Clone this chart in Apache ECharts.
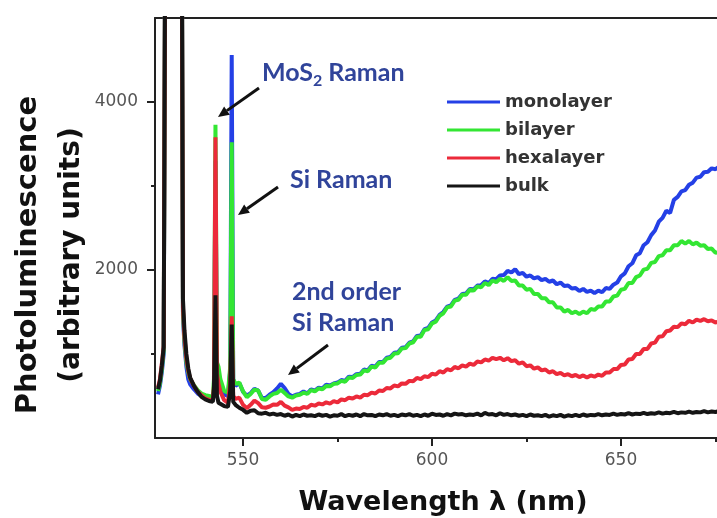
<!DOCTYPE html>
<html>
<head>
<meta charset="utf-8">
<script src="https://cdn.jsdelivr.net/npm/echarts@6/dist/echarts.min.js"></script>
<style>
  html, body { margin: 0; padding: 0; background: #fff; }
  #chart { width: 717px; height: 518px; }
</style>
</head>
<body>
<div id="chart"></div>
<script>
// ---------- data ----------
const wavelength = [
  527.5, 528, 528.5, 529, 529.4, 533.8, 534.1, 534.5, 535, 535.5,
  536, 537, 538, 539, 540, 541, 542, 542.3, 542.7, 543.1,
  543.5, 544, 545, 546, 546.6, 547, 547.4,
  548, 549, 550, 551, 552, 553, 554, 555, 556, 557,
  558, 559, 560, 561, 562, 563, 564, 565, 566, 567,
  568, 569, 570, 571, 572, 573, 574, 575, 576, 577,
  578, 579, 580, 581, 582, 583, 584, 585, 586, 587,
  588, 589, 590, 591, 592, 593, 594, 595, 596, 597,
  598, 599, 600, 601, 602, 603, 604, 605, 606, 607,
  608, 609, 610, 611, 612, 613, 614, 615, 616, 617,
  618, 619, 620, 621, 622, 623, 624, 625, 626, 627,
  628, 629, 630, 631, 632, 633, 634, 635, 636, 637,
  638, 639, 640, 641, 642, 643, 644, 645, 646, 647,
  648, 649, 650, 651, 652, 653, 654, 655, 656, 657,
  658, 659, 660, 661, 662, 663, 664, 665, 666, 667,
  668, 669, 670, 671, 672, 673, 674, 675, 676
];

const monolayer = [
  520, 620, 780, 1000, 6000, 6000, 1450, 1100, 850, 700,
  640, 580, 530, 500, 480, 470, 460, 560, 3300, 700,
  700, 600, 520, 500, 800, 4560, 700,
  620, 655, 550, 505, 535, 585, 565, 475, 475, 515,
  545, 590, 645, 595, 525, 495, 515, 525, 555, 530,
  580, 565, 600, 590, 635, 625, 650, 660, 690, 680,
  730, 725, 760, 765, 815, 805, 860, 850, 905, 905,
  955, 965, 1015, 1020, 1075, 1080, 1135, 1150, 1215, 1220,
  1295, 1310, 1375, 1400, 1465, 1500, 1565, 1580, 1645, 1660,
  1715, 1720, 1775, 1770, 1815, 1820, 1865, 1845, 1895, 1890,
  1935, 1940, 1990, 1970, 2010, 1950, 1965, 1920, 1935, 1900,
  1915, 1880, 1895, 1860, 1875, 1830, 1850, 1810, 1815, 1780,
  1785, 1750, 1775, 1740, 1755, 1725, 1755, 1735, 1785, 1775,
  1825, 1850, 1925, 1960, 2045, 2080, 2175, 2200, 2295, 2330,
  2415, 2470, 2575, 2620, 2705, 2680, 2835, 2870, 2935, 2950,
  3015, 3040, 3100, 3110, 3165, 3170, 3210, 3200, 3230
];

const bilayer = [
  560, 650, 820, 1050, 6000, 6000, 1500, 1150, 900, 780,
  700, 630, 570, 530, 510, 500, 490, 700, 3730, 900,
  850, 700, 560, 540, 850, 3520, 700,
  645, 660, 555, 485, 525, 575, 565, 465, 455, 495,
  525, 535, 575, 535, 495, 480, 505, 515, 540, 525,
  570, 555, 590, 580, 620, 615, 645, 650, 680, 670,
  720, 715, 750, 755, 805, 795, 850, 840, 895, 895,
  945, 955, 1005, 1010, 1065, 1070, 1125, 1140, 1205, 1205,
  1285, 1295, 1365, 1385, 1455, 1485, 1555, 1565, 1635, 1645,
  1705, 1705, 1765, 1755, 1805, 1795, 1845, 1820, 1875, 1855,
  1895, 1870, 1915, 1870, 1875, 1815, 1815, 1765, 1775, 1715,
  1715, 1665, 1665, 1615, 1615, 1555, 1555, 1505, 1525, 1485,
  1505, 1475, 1505, 1485, 1535, 1525, 1565, 1565, 1625, 1625,
  1685, 1695, 1765, 1775, 1845, 1845, 1915, 1935, 2005, 2015,
  2085, 2095, 2165, 2175, 2235, 2235, 2295, 2295, 2345, 2315,
  2345, 2305, 2325, 2290, 2295, 2250, 2255, 2205, 2215
];

const hexalayer = [
  600, 700, 880, 1100, 6000, 6000, 1550, 1200, 950, 800,
  710, 620, 550, 510, 470, 455, 445, 620, 3580, 760,
  650, 550, 450, 420, 650, 1450, 500,
  465, 480, 395, 355, 395, 445, 415, 365, 360, 375,
  400, 395, 430, 385, 365, 335, 350, 345, 370, 360,
  395, 385, 410, 400, 425, 410, 440, 425, 460, 450,
  480, 470, 495, 480, 515, 510, 540, 530, 565, 560,
  595, 590, 625, 615, 650, 645, 680, 675, 715, 700,
  735, 725, 765, 755, 795, 780, 820, 805, 845, 830,
  865, 850, 885, 870, 910, 900, 935, 920, 955, 940,
  955, 925, 950, 915, 925, 885, 900, 855, 865, 825,
  840, 805, 815, 780, 795, 760, 775, 745, 760, 735,
  750, 725, 745, 720, 745, 730, 755, 740, 780, 780,
  820, 820, 870, 875, 935, 940, 1000, 1000, 1060, 1060,
  1125, 1135, 1205, 1210, 1270, 1280, 1325, 1320, 1365, 1355,
  1395, 1375, 1410, 1395, 1415, 1390, 1400, 1375, 1390
];

const bulk = [
  580, 680, 860, 1080, 6000, 6000, 1650, 1280, 1000, 830,
  720, 620, 550, 490, 460, 440, 430, 580, 1700, 500,
  420, 400, 380, 370, 560, 1350, 430,
  395, 360, 335, 300, 325, 330, 295, 290, 300, 280,
  290, 275, 285, 265, 280, 255, 275, 260, 280, 265,
  270, 260, 280, 265, 275, 255, 270, 265, 285, 260,
  275, 265, 280, 260, 285, 270, 275, 260, 280, 270,
  285, 265, 275, 260, 280, 270, 285, 265, 275, 260,
  280, 265, 290, 275, 280, 265, 285, 270, 290, 280,
  285, 270, 280, 275, 290, 270, 300, 280, 285, 270,
  295, 275, 285, 270, 280, 265, 275, 260, 280, 265,
  270, 260, 275, 255, 270, 260, 275, 255, 270, 260,
  275, 260, 280, 265, 275, 270, 285, 270, 280, 275,
  290, 275, 285, 280, 295, 280, 290, 285, 300, 285,
  295, 290, 305, 290, 300, 295, 310, 295, 305, 300,
  315, 300, 310, 305, 320, 305, 315, 310, 320
];

const seriesNames = ['monolayer', 'bilayer', 'hexalayer', 'bulk'];
const seriesValues = [monolayer, bilayer, hexalayer, bulk];
const seriesColors = ['#2440e6', '#33e633', '#ec2a3a', '#151515'];

const xMajorTicks = [550, 600, 650];
const xMinorTicks = [575, 625, 675];
const yMajorTicks = [2000, 4000];
const yMinorTicks = [1000, 3000];

// ---------- styles ----------
const AXIS_COLOR = '#222';
const TICK_FONT = { fontFamily: 'DejaVu Sans', fontSize: 17, color: '#555' };
const NOTE_COLOR = '#30449a';
const NOTE_FONT = 'Lato';

// plot box: the frame runs past the right edge of the picture
const X_MIN = 526.7, X_MAX = 680.7;

/** arrow made of a line and a filled head pointing to (x2, y2) */
function arrow(x1, y1, x2, y2) {
  const a = Math.atan2(y2 - y1, x2 - x1);
  const len = 11, half = 5;
  const bx = x2 - len * Math.cos(a), by = y2 - len * Math.sin(a);
  const nx = -Math.sin(a) * half, ny = Math.cos(a) * half;
  return [
    { type: 'line', shape: { x1, y1, x2: bx, y2: by }, style: { stroke: '#111', lineWidth: 3 }, z: 100 },
    { type: 'polygon', shape: { points: [[x2, y2], [bx + nx, by + ny], [bx - nx, by - ny]] }, style: { fill: '#111' }, z: 100 },
  ];
}

function note(text, x, y, rich) {
  return {
    type: 'text', x, y, z: 100,
    style: {
      text, fill: NOTE_COLOR, fontFamily: NOTE_FONT, fontWeight: 'bold', fontSize: 25,
      align: 'left', verticalAlign: 'middle', rich,
    },
  };
}

const chart = echarts.init(document.getElementById('chart'), null, { renderer: 'canvas' });

chart.setOption({
  animation: false,
  backgroundColor: '#fff',
  grid: { left: 155, top: 18, width: 582, bottom: 80, show: false, outerBoundsMode: 'none' },
  legend: {
    data: seriesNames,
    orient: 'vertical',
    left: 447, top: 92, padding: 0,
    icon: 'rect',
    itemWidth: 53, itemHeight: 3, itemGap: 8,
    selectedMode: false,
    textStyle: { fontFamily: 'DejaVu Sans', fontWeight: 'bold', fontSize: 18, color: '#333', lineHeight: 20 },
  },
  xAxis: [{
    type: 'value', min: X_MIN, max: X_MAX,
    axisLine: { lineStyle: { color: AXIS_COLOR, width: 2 } },
    axisTick: { customValues: xMajorTicks, length: 8, lineStyle: { color: AXIS_COLOR, width: 2 } },
    axisLabel: Object.assign({ customValues: xMajorTicks, margin: 14 }, TICK_FONT),
    splitLine: { show: false },
  }, {
    type: 'value', min: X_MIN, max: X_MAX, position: 'bottom',
    axisLine: { show: false },
    axisTick: { customValues: xMinorTicks, length: 4, lineStyle: { color: AXIS_COLOR, width: 2 } },
    axisLabel: { show: false },
    splitLine: { show: false },
  }, {
    // top edge of the frame
    type: 'value', min: X_MIN, max: X_MAX, position: 'top',
    axisLine: { show: true, lineStyle: { color: AXIS_COLOR, width: 2 } },
    axisTick: { show: false },
    axisLabel: { show: false },
    splitLine: { show: false },
  }],
  yAxis: [{
    type: 'value', min: 0, max: 5000,
    axisLine: { show: true, lineStyle: { color: AXIS_COLOR, width: 2 } },
    axisTick: { show: true, customValues: yMajorTicks, length: 8, lineStyle: { color: AXIS_COLOR, width: 2 } },
    axisLabel: Object.assign({ customValues: yMajorTicks, margin: 17, formatter: v => String(v) }, TICK_FONT),
    splitLine: { show: false },
  }, {
    type: 'value', min: 0, max: 5000, position: 'left',
    axisLine: { show: false },
    axisTick: { show: true, customValues: yMinorTicks, length: 4, lineStyle: { color: AXIS_COLOR, width: 2 } },
    axisLabel: { show: false },
    splitLine: { show: false },
  }],
  series: seriesNames.map((name, k) => ({
    name,
    type: 'line',
    xAxisIndex: 0, yAxisIndex: 0,
    showSymbol: false,
    clip: true,
    color: seriesColors[k],
    lineStyle: { color: seriesColors[k], width: 4 },
    data: wavelength.map((w, i) => [w, seriesValues[k][i]]),
  })),
  graphic: [
    // axis titles
    { type: 'text', x: 28, y: 255, rotation: Math.PI / 2,
      style: { text: 'Photoluminescence', fontFamily: 'DejaVu Sans', fontWeight: 'bold', fontSize: 29, fill: '#111', align: 'center', verticalAlign: 'middle' } },
    { type: 'text', x: 72, y: 255, rotation: Math.PI / 2,
      style: { text: '(arbitrary units)', fontFamily: 'DejaVu Sans', fontWeight: 'bold', fontSize: 28, fill: '#111', align: 'center', verticalAlign: 'middle' } },
    { type: 'text', x: 443, y: 503,
      style: { text: 'Wavelength λ (nm)', fontFamily: 'DejaVu Sans', fontWeight: 'bold', fontSize: 27, fill: '#111', align: 'center', verticalAlign: 'middle' } },
    // annotations
    note('{m|MoS}{s|2}{m| Raman}', 262, 73, {
      m: { fontFamily: NOTE_FONT, fontWeight: 'bold', fontSize: 25, fill: NOTE_COLOR, lineHeight: 32 },
      s: { fontFamily: NOTE_FONT, fontWeight: 'bold', fontSize: 16, fill: NOTE_COLOR, lineHeight: 16, verticalAlign: 'bottom' },
    }),
    ...arrow(259, 88, 218, 117),
    note('Si Raman', 290, 180),
    ...arrow(278, 187, 238, 215),
    note('2nd order', 292, 292),
    note('Si Raman', 292, 323),
    ...arrow(328, 345, 288, 375),
  ],
});
</script>
</body>
</html>
